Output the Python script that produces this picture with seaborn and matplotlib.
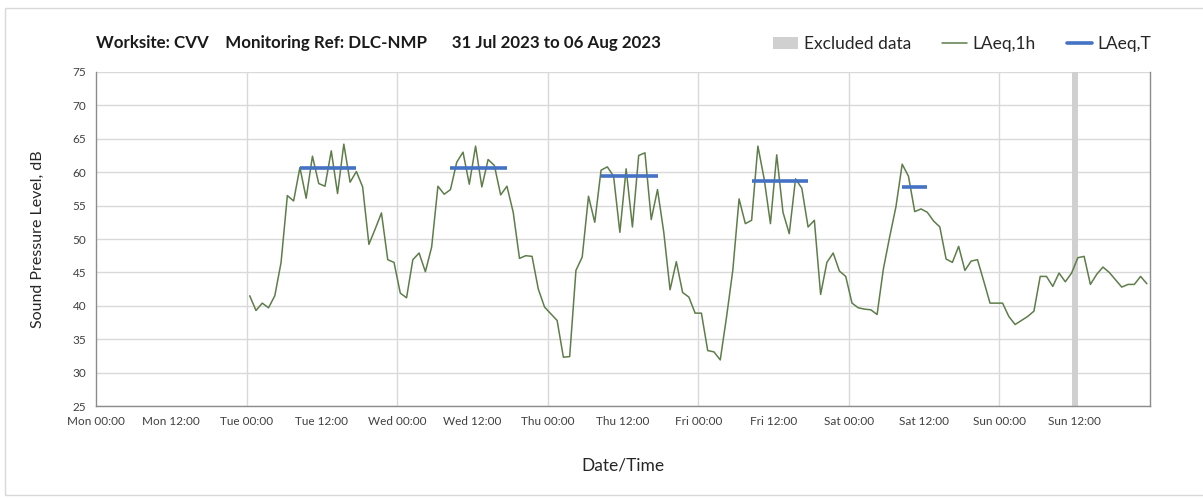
import pandas as pd
import matplotlib
matplotlib.use("Agg")
import matplotlib.pyplot as plt
import matplotlib.dates as mdates
from matplotlib.patches import Patch, Rectangle
from matplotlib.lines import Line2D
import seaborn as sns

# hourly LAeq,1h values, Tue 01 Aug 00:30 onwards
start_time = "2023-08-01 00:30"
laeq_1h = [
    41.5, 39.3, 40.4, 39.7, 41.5, 46.5, 56.5, 55.7, 60.7, 56.1,
    62.4, 58.3, 57.9, 63.2, 56.8, 64.2, 58.5, 60.1, 57.8, 49.2,
    51.5, 53.9, 46.9, 46.5, 41.9, 41.2, 46.9, 47.9, 45.1, 48.8,
    57.9, 56.7, 57.4, 61.5, 63.0, 58.2, 63.9, 57.8, 61.9, 61.0,
    56.6, 57.9, 54.0, 47.1, 47.5, 47.4, 42.5, 39.8, 38.8, 37.8,
    32.3, 32.4, 45.3, 47.3, 56.4, 52.5, 60.3, 60.8, 59.4, 51.0,
    60.5, 51.8, 62.5, 62.9, 52.9, 57.4, 51.0, 42.4, 46.6, 42.0,
    41.3, 38.9, 38.9, 33.3, 33.1, 31.9, 38.3, 45.3, 56.0, 52.3,
    52.8, 63.9, 59.0, 52.3, 62.6, 54.0, 50.8, 59.0, 57.6, 51.8,
    52.8, 41.7, 46.5, 47.9, 45.2, 44.4, 40.4, 39.7, 39.5, 39.4,
    38.7, 45.5, 50.3, 54.8, 61.2, 59.4, 54.1, 54.5, 54.0, 52.7,
    51.8, 47.0, 46.5, 48.9, 45.3, 46.7, 46.9, 43.7, 40.4, 40.4,
    40.4, 38.4, 37.2, 37.8, 38.4, 39.2, 44.4, 44.4, 42.9, 44.9,
    43.6, 44.9, 47.2, 47.4, 43.2, 44.7, 45.8, 45.0, 43.9, 42.8,
    43.2, 43.2, 44.4, 43.3,
]

# LAeq,T working-period averages
laeqT_start = ["2023-08-01 08:30", "2023-08-02 08:30", "2023-08-03 08:30",
               "2023-08-04 08:30", "2023-08-05 08:30"]
laeqT_end = ["2023-08-01 17:30", "2023-08-02 17:30", "2023-08-03 17:30",
             "2023-08-04 17:30", "2023-08-05 12:30"]
laeqT_value = [60.6, 60.6, 59.5, 58.7, 57.8]

excluded_start = "2023-08-06 11:30"
excluded_end = "2023-08-06 12:30"

axis_start = "2023-07-31 00:00"
axis_end = "2023-08-07 00:00"

title = "Worksite: CVV    Monitoring Ref: DLC-NMP      31 Jul 2023 to 06 Aug 2023"

df = pd.DataFrame({
    "time": pd.date_range(start_time, periods=len(laeq_1h), freq="h"),
    "LAeq,1h": laeq_1h,
})

sns.set_style("white")
plt.rcParams["font.family"] = ["Lato", "DejaVu Sans"]

green = "#5E7D4A"
blue = "#4472C4"
grid_c = "#D9D9D9"
spine_c = "#8C8C8C"

fig = plt.figure(figsize=(12.03, 4.98), dpi=100)
ax = fig.add_axes([96 / 1203, 1 - 406 / 498, (1150 - 96) / 1203, (406 - 72) / 498])

# outer chart border
fig.patches.append(Rectangle((5 / 1203, 3 / 498), 1.2, (495 - 8) / 498,
                             transform=fig.transFigure, fill=False,
                             edgecolor=grid_c, linewidth=1))

ax.axvspan(pd.Timestamp(excluded_start), pd.Timestamp(excluded_end),
           color="#D0D0D0", lw=0, zorder=1)
for d in pd.date_range(axis_start, axis_end, freq="D")[1:-1]:
    ax.axvline(d, color=grid_c, lw=1, zorder=0)

sns.lineplot(data=df, x="time", y="LAeq,1h", ax=ax, color=green, lw=1.1, zorder=3)
ax.hlines(laeqT_value, pd.to_datetime(laeqT_start), pd.to_datetime(laeqT_end),
          color=blue, lw=2.6, zorder=4)

ax.set_xlim(pd.Timestamp(axis_start), pd.Timestamp(axis_end))
ax.set_ylim(25, 75)
ax.set_yticks(range(25, 80, 5))
ax.yaxis.grid(True, color=grid_c, lw=1)
ax.set_axisbelow(True)

ax.set_xticks(pd.date_range(axis_start, periods=14, freq="12h"))
ax.xaxis.set_major_formatter(mdates.DateFormatter("%a %H:%M"))
ax.tick_params(axis="both", direction="out", length=4, color=spine_c,
               labelsize=8.5, labelcolor="#404040", pad=3)

ax.spines["top"].set_visible(False)
for s in ["left", "bottom", "right"]:
    ax.spines[s].set_color(spine_c)
    ax.spines[s].set_linewidth(1)

ax.set_xlabel("Date/Time", fontsize=12.5, color="#262626", labelpad=22)
ax.set_ylabel("Sound Pressure Level, dB", fontsize=11.5, color="#262626", labelpad=20)

fig.text(96 / 1203, 1 - 43 / 498, title, fontsize=12.2, fontweight="bold",
         va="center", ha="left", color="#1a1a1a")

handles = [Patch(facecolor="#D0D0D0", edgecolor="none"),
           Line2D([], [], color=green, lw=1.1),
           Line2D([], [], color=blue, lw=2.6)]
fig.legend(handles, ["Excluded data", "LAeq,1h", "LAeq,T"],
           loc="center right", bbox_to_anchor=(1167 / 1203, 1 - 44 / 498),
           ncol=3, frameon=False, fontsize=12.5, handlelength=1.4,
           handletextpad=0.35, columnspacing=1.8)

fig.savefig("out.png", dpi=100)
